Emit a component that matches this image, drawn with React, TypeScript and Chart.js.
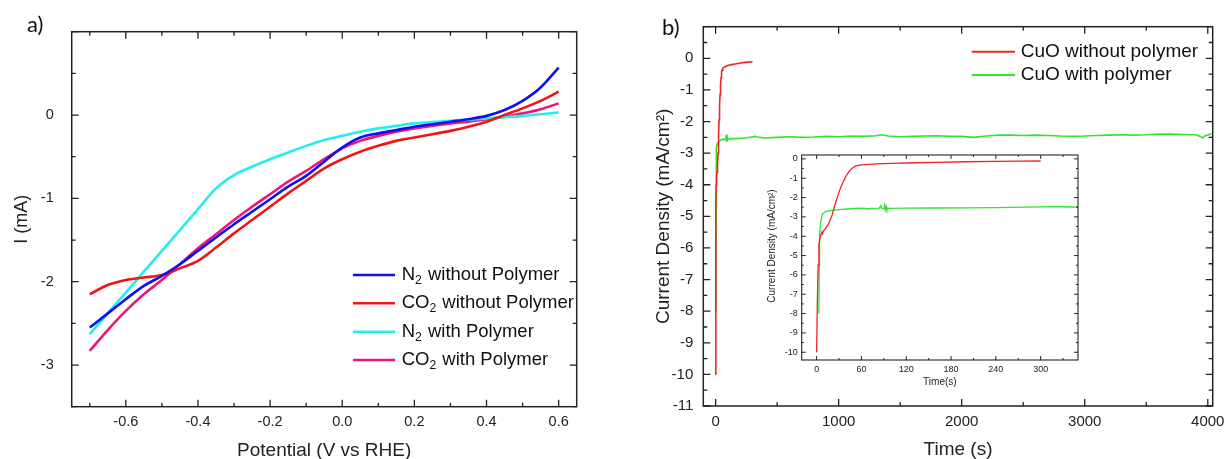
import React, { useEffect, useRef } from "react";
import { Chart, registerables } from "chart.js";
Chart.register(...registerables);

// ---------- Panel a: linear sweep ----------
const potentialV = [-0.7, -0.65, -0.6, -0.55, -0.5, -0.45, -0.4, -0.35, -0.3, -0.25, -0.2, -0.15, -0.1, -0.05, 0, 0.05, 0.1, 0.15, 0.2, 0.25, 0.3, 0.35, 0.4, 0.45, 0.5, 0.55, 0.6];
const currentN2NoPolymer = [-2.55, -2.38, -2.21, -2.05, -1.93, -1.79, -1.63, -1.47, -1.31, -1.16, -1.01, -0.86, -0.73, -0.56, -0.39, -0.27, -0.22, -0.18, -0.14, -0.11, -0.08, -0.05, -0.01, 0.06, 0.17, 0.33, 0.57];
const currentCO2NoPolymer = [-2.15, -2.04, -1.98, -1.95, -1.92, -1.84, -1.75, -1.59, -1.42, -1.26, -1.1, -0.94, -0.79, -0.64, -0.53, -0.44, -0.37, -0.31, -0.27, -0.23, -0.19, -0.14, -0.08, 0.0, 0.08, 0.17, 0.28];
const currentN2Polymer = [-2.63, -2.38, -2.13, -1.88, -1.63, -1.38, -1.13, -0.88, -0.72, -0.62, -0.53, -0.45, -0.37, -0.3, -0.25, -0.2, -0.16, -0.13, -0.1, -0.085, -0.07, -0.055, -0.04, -0.025, -0.01, 0.01, 0.03];
const currentCO2Polymer = [-2.83, -2.58, -2.35, -2.15, -1.98, -1.79, -1.6, -1.43, -1.26, -1.1, -0.95, -0.8, -0.67, -0.53, -0.4, -0.31, -0.25, -0.2, -0.16, -0.13, -0.1, -0.08, -0.05, -0.02, 0.02, 0.07, 0.14];
const legendA = ["N₂ without Polymer", "CO₂ without Polymer", "N₂ with Polymer", "CO₂ with Polymer"];
const xTickLabelsA = [-0.6, -0.4, -0.2, 0, 0.2, 0.4, 0.6];
const yTickLabelsA = [-3, -2, -1, 0];

// ---------- Panel b: chronoamperometry ----------
const timeNoPolymer = [0, 1, 2, 3, 5, 7, 8, 9, 12, 16, 20, 24, 28, 32, 36, 40, 44, 48, 52, 56, 60, 80, 100, 130, 160, 200, 240, 270, 300];
const densityNoPolymer = [-10, -7.3, -5.5, -4.4, -4.0, -3.8, -3.88, -3.72, -3.6, -3.35, -3.0, -2.45, -1.95, -1.5, -1.15, -0.85, -0.62, -0.47, -0.38, -0.34, -0.31, -0.26, -0.23, -0.2, -0.18, -0.15, -0.13, -0.12, -0.11];
const timePolymer = [3, 3.6, 4, 5, 6.5, 8, 12, 20, 30, 45, 60, 68, 75, 84, 86, 87, 90, 91, 92, 93, 94, 96, 120, 160, 200, 240, 280, 320, 340, 400, 500, 600, 700, 800, 900, 1000, 1100, 1200, 1300, 1350, 1400, 1500, 1600, 1700, 1800, 1900, 2000, 2100, 2200, 2300, 2400, 2500, 2600, 2700, 2800, 2900, 3000, 3100, 3200, 3300, 3400, 3500, 3600, 3700, 3800, 3900, 3940, 3960, 3980, 4000, 4030];
const densityPolymer = [-8.0, -5.5, -4.0, -3.4, -3.05, -2.85, -2.72, -2.66, -2.62, -2.58, -2.55, -2.58, -2.56, -2.55, -2.42, -2.55, -2.58, -2.4, -2.65, -2.45, -2.62, -2.56, -2.55, -2.54, -2.53, -2.52, -2.5, -2.47, -2.49, -2.52, -2.5, -2.48, -2.5, -2.49, -2.47, -2.48, -2.46, -2.47, -2.45, -2.42, -2.46, -2.48, -2.47, -2.46, -2.45, -2.47, -2.47, -2.5, -2.46, -2.43, -2.43, -2.44, -2.43, -2.44, -2.46, -2.47, -2.46, -2.44, -2.43, -2.42, -2.43, -2.42, -2.4, -2.4, -2.41, -2.42, -2.47, -2.52, -2.44, -2.43, -2.38];
const legendB = ["CuO without polymer", "CuO with polymer"];
const xTickLabelsB = [0, 1000, 2000, 3000, 4000];
const yTickLabelsB = [0, -1, -2, -3, -4, -5, -6, -7, -8, -9, -10, -11];
const xTickLabelsInset = [0, 60, 120, 180, 240, 300];
const yTickLabelsInset = [0, -1, -2, -3, -4, -5, -6, -7, -8, -9, -10];
const insetYTitle = "Current Density (mA/cm²)";

const FONT = "'Liberation Sans', Arial, sans-serif";
const INK = "#222";

const near = (v: number, list: number[]) => list.some((t) => Math.abs(t - v) < 1e-6);
const isMult = (v: number, step: number) => {
  const r = v / step;
  return Math.abs(r - Math.round(r)) < 1e-6;
};
const pts = (xs: number[], ys: number[]) => xs.map((x, i) => ({ x, y: ys[i] }));

function frameTicks(cfg: { xMinor: number; xMajor: number; yMinor: number; yMajor: number; major: number; minor: number; frame: number; tick: number }) {
  return {
    id: "frameTicks",
    afterDatasetsDraw(chart: any) {
      const { ctx, chartArea: a } = chart;
      const xs = chart.scales.x;
      const ys = chart.scales.y;
      ctx.save();
      ctx.strokeStyle = INK;
      ctx.lineWidth = cfg.tick;
      ctx.beginPath();
      for (const t of xs.ticks) {
        if (!isMult(t.value, cfg.xMinor)) continue;
        const len = isMult(t.value, cfg.xMajor) ? cfg.major : cfg.minor;
        const p = xs.getPixelForValue(t.value);
        ctx.moveTo(p, a.bottom);
        ctx.lineTo(p, a.bottom - len);
        ctx.moveTo(p, a.top);
        ctx.lineTo(p, a.top + len);
      }
      for (const t of ys.ticks) {
        if (!isMult(t.value, cfg.yMinor)) continue;
        const len = isMult(t.value, cfg.yMajor) ? cfg.major : cfg.minor;
        const p = ys.getPixelForValue(t.value);
        ctx.moveTo(a.left, p);
        ctx.lineTo(a.left + len, p);
        ctx.moveTo(a.right, p);
        ctx.lineTo(a.right - len, p);
      }
      ctx.stroke();
      ctx.lineWidth = cfg.frame;
      ctx.strokeRect(a.left, a.top, a.right - a.left, a.bottom - a.top);
      ctx.restore();
    },
  };
}

const SUBS = "₀₁₂₃₄₅₆₇₈₉";
function drawRich(ctx: CanvasRenderingContext2D, text: string, x: number, y: number, size: number) {
  let cx = x;
  let buf = "";
  const flush = () => {
    if (!buf) return;
    ctx.font = `${size}px ${FONT}`;
    ctx.fillText(buf, cx, y);
    cx += ctx.measureText(buf).width;
    buf = "";
  };
  for (const ch of text) {
    const k = SUBS.indexOf(ch);
    if (k >= 0) {
      flush();
      const s = size * 0.66;
      ctx.font = `${s}px ${FONT}`;
      ctx.fillText(String(k), cx, y + size * 0.3);
      cx += ctx.measureText(String(k)).width + size * 0.05;
    } else buf += ch;
  }
  flush();
}

function legendBox(cfg: { labels: string[]; x0: number; x1: number; tx: number; rows: number[]; size: number; lw: number }) {
  return {
    id: "legendBox",
    afterDraw(chart: any) {
      const ctx = chart.ctx;
      ctx.save();
      chart.data.datasets.forEach((ds: any, i: number) => {
        const y = cfg.rows[i];
        ctx.strokeStyle = ds.borderColor;
        ctx.lineWidth = cfg.lw;
        ctx.beginPath();
        ctx.moveTo(cfg.x0, y);
        ctx.lineTo(cfg.x1, y);
        ctx.stroke();
        ctx.fillStyle = "#111";
        ctx.textBaseline = "middle";
        ctx.textAlign = "left";
        drawRich(ctx, cfg.labels[i], cfg.tx, y, cfg.size);
      });
      ctx.restore();
    },
  };
}

function panelLabel(text: string, x: number, y: number) {
  return {
    id: "panelLabel",
    afterDraw(chart: any) {
      const ctx = chart.ctx;
      ctx.save();
      ctx.font = `22px Lato, ${FONT}`;
      ctx.fillStyle = "#111";
      ctx.textBaseline = "middle";
      ctx.textAlign = "left";
      ctx.fillText(text, x, y);
      ctx.restore();
    },
  };
}

function rotatedTitle(text: string, x: number, y: number, size: number) {
  return {
    id: "rotatedTitle",
    afterDraw(chart: any) {
      const ctx = chart.ctx;
      ctx.save();
      ctx.translate(x, y);
      ctx.rotate(-Math.PI / 2);
      ctx.font = `${size}px ${FONT}`;
      ctx.fillStyle = INK;
      ctx.textAlign = "center";
      ctx.textBaseline = "middle";
      ctx.fillText(text, 0, 0);
      ctx.restore();
    },
  };
}

function axis(o: any) {
  const { min, max, step, labels, fmt, size, pad, title, tFont, tPad, fixed, horiz } = o;
  return {
    type: "linear",
    min,
    max,
    grid: { display: false, drawTicks: false },
    border: { display: false },
    afterBuildTicks: (s: any) => {
      const out: any[] = [];
      const k0 = Math.ceil(min / step - 1e-9);
      const k1 = Math.floor(max / step + 1e-9);
      for (let k = k0; k <= k1; k++) out.push({ value: Math.round(k * step * 1e6) / 1e6 });
      s.ticks = out;
    },
    ticks: {
      autoSkip: false,
      maxRotation: 0,
      minRotation: 0,
      padding: pad,
      color: INK,
      font: { family: FONT, size },
      callback: (v: number) => (near(v, labels) ? fmt(Math.abs(v) < 1e-9 ? 0 : v) : ""),
    },
    title: { display: !!title, text: title || "", color: INK, font: { family: FONT, ...(tFont || {}) }, padding: tPad || 0 },
    afterFit: (s: any) => {
      if (horiz) s.height = fixed;
      else s.width = fixed;
      s.paddingLeft = 0;
      s.paddingRight = 0;
      s.paddingTop = 0;
      s.paddingBottom = 0;
    },
  };
}

function lineDs(label: string, data: any[], color: string, width: number, smooth: boolean) {
  return {
    label,
    data,
    borderColor: color,
    backgroundColor: color,
    borderWidth: width,
    pointRadius: 0,
    fill: false,
    tension: 0,
    cubicInterpolationMode: smooth ? "monotone" : "default",
  };
}

const baseOpts = {
  responsive: false,
  maintainAspectRatio: false,
  animation: false,
  events: [],
};

function makeA() {
  return {
    type: "line",
    data: {
      datasets: [
        lineDs(legendA[0], pts(potentialV, currentN2NoPolymer), "#1010ee", 2.6, true),
        lineDs(legendA[1], pts(potentialV, currentCO2NoPolymer), "#f01414", 2.6, true),
        lineDs(legendA[2], pts(potentialV, currentN2Polymer), "#22eeee", 2.6, true),
        lineDs(legendA[3], pts(potentialV, currentCO2Polymer), "#ee1478", 2.6, true),
      ],
    },
    options: {
      ...baseOpts,
      layout: { padding: { left: 0, top: 31.7, right: 43.3, bottom: 0 } },
      plugins: { legend: { display: false }, tooltip: { enabled: false } },
      scales: {
        x: axis({ min: -0.75, max: 0.65, step: 0.1, labels: xTickLabelsA, fmt: (v: number) => v.toFixed(1), size: 14.5, pad: 7, title: "Potential (V vs RHE)", tFont: { size: 19, lineHeight: 0.8 }, tPad: { top: 0, bottom: 0.9 }, fixed: 52.3, horiz: true }),
        y: axis({ min: -3.5, max: 1, step: 0.5, labels: yTickLabelsA, fmt: (v: number) => String(Math.round(v)), size: 14.5, pad: 18, title: "I (mA)", tFont: { size: 18, lineHeight: 1.2 }, tPad: { top: 11.2, bottom: 0 }, fixed: 71.7, horiz: false }),
      },
    },
    plugins: [
      frameTicks({ xMinor: 0.1, xMajor: 0.2, yMinor: 0.5, yMajor: 1, major: 7, minor: 4, frame: 1.5, tick: 1.3 }),
      legendBox({ labels: legendA, x0: 353, x1: 395, tx: 401.7, rows: [275, 303.3, 331.7, 360], size: 18.5, lw: 2.6 }),
      panelLabel("a)", 27, 25),
    ],
  };
}

function makeB() {
  return {
    type: "line",
    data: {
      datasets: [
        lineDs(legendB[0], pts(timeNoPolymer, densityNoPolymer), "#f02424", 1.6, false),
        lineDs(legendB[1], pts(timePolymer, densityPolymer), "#2ee62e", 1.6, false),
      ],
    },
    options: {
      ...baseOpts,
      layout: { padding: { left: 0, top: 26.7, right: 14.3, bottom: 0 } },
      plugins: { legend: { display: false }, tooltip: { enabled: false } },
      scales: {
        x: axis({ min: -100, max: 4040, step: 500, labels: xTickLabelsB, fmt: (v: number) => String(Math.round(v)), size: 15, pad: 7, title: "Time (s)", tFont: { size: 19, lineHeight: 0.8 }, tPad: { top: 0, bottom: 1.4 }, fixed: 53, horiz: true }),
        y: axis({ min: -11, max: 1, step: 0.5, labels: yTickLabelsB, fmt: (v: number) => String(Math.round(v)), size: 15, pad: 10, title: "Current Density (mA/cm²)", tFont: { size: 19, lineHeight: 1.2 }, tPad: { top: 32.6, bottom: 0 }, fixed: 83.3, horiz: false }),
      },
    },
    plugins: [
      frameTicks({ xMinor: 500, xMajor: 1000, yMinor: 0.5, yMajor: 1, major: 7, minor: 4, frame: 1.5, tick: 1.3 }),
      legendBox({ labels: legendB, x0: 351.7, x1: 395, tx: 400.7, rows: [51.7, 75], size: 19, lw: 2 }),
      panelLabel("b)", 42, 28),
    ],
  };
}

function makeInset() {
  return {
    type: "line",
    data: {
      datasets: [
        lineDs(legendB[0], pts(timeNoPolymer, densityNoPolymer), "#f02424", 1.3, false),
        lineDs(legendB[1], pts(timePolymer, densityPolymer), "#2ee62e", 1.3, false),
      ],
    },
    options: {
      ...baseOpts,
      layout: { padding: { left: 0, top: 7, right: 12, bottom: 0 } },
      plugins: { legend: { display: false }, tooltip: { enabled: false } },
      scales: {
        x: axis({ min: -20, max: 350, step: 30, labels: xTickLabelsInset, fmt: (v: number) => String(Math.round(v)), size: 9, pad: 4, title: "Time(s)", tFont: { size: 10, lineHeight: 1.2 }, tPad: { top: 0, bottom: 4.7 }, fixed: 33, horiz: true }),
        y: axis({ min: -10.4, max: 0.2, step: 0.5, labels: yTickLabelsInset, fmt: (v: number) => String(Math.round(v)), size: 9, pad: 4, title: "", fixed: 46.7, horiz: false }),
      },
    },
    plugins: [
      frameTicks({ xMinor: 30, xMajor: 60, yMinor: 0.5, yMajor: 1, major: 4, minor: 2, frame: 1.1, tick: 1 }),
      rotatedTitle(insetYTitle, 17.7, 98, 10),
    ],
  };
}

function ChartCanvas({ left, top, width, height, make }: { left: number; top: number; width: number; height: number; make: () => any }) {
  const ref = useRef<HTMLCanvasElement | null>(null);
  useEffect(() => {
    if (!ref.current) return;
    const c = new Chart(ref.current, make());
    return () => c.destroy();
  }, []);
  return <canvas ref={ref} width={width} height={height} style={{ position: "absolute", left, top, width, height, display: "block" }} />;
}

export default function App() {
  return (
    <div style={{ position: "absolute", left: 0, top: 0, width: 1227, height: 459, background: "#fff", overflow: "hidden" }}>
      <ChartCanvas left={0} top={0} width={620} height={459} make={makeA} />
      <ChartCanvas left={620} top={0} width={607} height={459} make={makeB} />
      <ChartCanvas left={755} top={148} width={335} height={245} make={makeInset} />
    </div>
  );
}
